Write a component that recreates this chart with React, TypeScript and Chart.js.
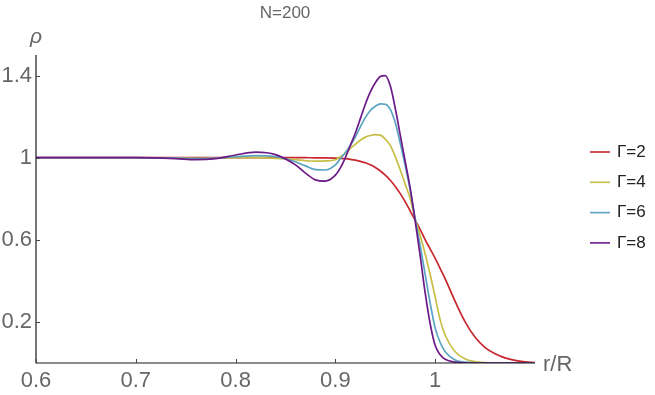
import React, { useEffect, useRef } from "react";
import { Chart, registerables } from "chart.js";

Chart.register(...registerables);

// r/R sample positions
const rValues = [
  0.6, 0.65, 0.7, 0.74, 0.76, 0.78, 0.8, 0.82, 0.84, 0.86, 0.87, 0.88, 0.89, 0.9, 0.905, 0.91, 0.915, 0.92,
  0.925, 0.93, 0.935, 0.94, 0.945, 0.95, 0.955, 0.96, 0.965, 0.97, 0.975, 0.98, 0.985, 0.99, 0.995, 1.0,
  1.005, 1.01, 1.02, 1.03, 1.04, 1.05, 1.06, 1.07, 1.08, 1.09, 1.1,
];

const gamma2 = [
  1.0, 1.0, 1.0, 1.0, 1.0, 1.0, 1.0, 1.0, 1.0, 1.0, 1.0, 0.999, 0.999, 0.998, 0.997, 0.995, 0.992, 0.988,
  0.982, 0.975, 0.965, 0.952, 0.935, 0.915, 0.89, 0.86, 0.825, 0.785, 0.74, 0.695, 0.65, 0.6, 0.555, 0.51,
  0.46, 0.41, 0.3, 0.2, 0.125, 0.075, 0.045, 0.025, 0.013, 0.006, 0.002,
];

const gamma4 = [
  0.998, 0.998, 0.998, 0.998, 0.997, 0.998, 1.0, 1.0, 0.997, 0.99, 0.985, 0.983, 0.984, 0.99, 1.005, 1.02,
  1.045, 1.065, 1.085, 1.1, 1.108, 1.112, 1.11, 1.09, 1.06, 1.005, 0.94, 0.87, 0.8, 0.7, 0.62, 0.53, 0.43,
  0.32, 0.21, 0.135, 0.055, 0.02, 0.007, 0.002, 0.0, 0.0, 0.0, 0.0, 0.0,
];

const gamma6 = [
  1.0, 1.0, 1.0, 0.998, 0.995, 0.998, 1.005, 1.01, 1.005, 0.98, 0.96, 0.942, 0.94, 0.965, 0.995, 1.025, 1.06,
  1.1, 1.15, 1.195, 1.23, 1.25, 1.262, 1.26, 1.235, 1.17, 1.07, 0.96, 0.84, 0.7, 0.57, 0.43, 0.29, 0.17,
  0.1, 0.055, 0.015, 0.004, 0.001, 0.0, 0.0, 0.0, 0.0, 0.0, 0.0,
];

const gamma8 = [
  1.0, 1.0, 1.0, 0.995, 0.99, 0.995, 1.013, 1.027, 1.015, 0.965, 0.925, 0.892, 0.886, 0.915, 0.95, 1.0, 1.06,
  1.12, 1.19, 1.26, 1.32, 1.365, 1.395, 1.4, 1.35, 1.24, 1.11, 0.98, 0.85, 0.69, 0.52, 0.34, 0.19, 0.085,
  0.04, 0.018, 0.004, 0.0, 0.0, 0.0, 0.0, 0.0, 0.0, 0.0, 0.0,
];

const seriesLabels = ["Γ=2", "Γ=4", "Γ=6", "Γ=8"];
const seriesColors = ["#c8272d", "#c7bf45", "#5ba4c1", "#6b1a87"];
const xTicks = [0.6, 0.7, 0.8, 0.9, 1.0];
const yTicks = [0.2, 0.6, 1.0, 1.4];
const titleText = "N=200";
const xAxisLabel = "r/R";
const yAxisLabel = "ρ";

const FONT = "'Liberation Sans', Arial, sans-serif";

const decorPlugin = {
  id: "decor",
  afterDatasetsDraw(chart: any) {
    const ctx = chart.ctx as CanvasRenderingContext2D;
    const xs = chart.scales.x;
    const ys = chart.scales.y;
    const left = xs.getPixelForValue(0.6);
    const right = xs.getPixelForValue(1.1);
    const bottom = ys.getPixelForValue(0);
    const top = ys.getPixelForValue(1.5);
    ctx.save();
    // axes
    ctx.strokeStyle = "#1a1a1a";
    ctx.lineWidth = 1.2;
    ctx.beginPath();
    ctx.moveTo(left, top);
    ctx.lineTo(left, bottom);
    ctx.lineTo(right, bottom);
    ctx.stroke();
    // ticks (inward)
    ctx.lineWidth = 1;
    ctx.strokeStyle = "#444";
    ctx.beginPath();
    for (const v of xTicks) {
      const px = Math.round(xs.getPixelForValue(v)) + 0.5;
      ctx.moveTo(px, bottom);
      ctx.lineTo(px, bottom - 4);
    }
    for (const v of yTicks) {
      const py = Math.round(ys.getPixelForValue(v)) + 0.5;
      ctx.moveTo(left, py);
      ctx.lineTo(left + 4, py);
    }
    ctx.stroke();
    // axis labels
    ctx.fillStyle = "#666";
    ctx.font = `italic 21px ${FONT}`;
    ctx.textAlign = "center";
    ctx.textBaseline = "alphabetic";
    ctx.fillText(yAxisLabel, 36, 43);
    ctx.font = `22px ${FONT}`;
    ctx.textAlign = "left";
    ctx.textBaseline = "middle";
    ctx.fillText(xAxisLabel, right + 8, bottom + 2);
    // title
    ctx.font = `17px ${FONT}`;
    ctx.textAlign = "center";
    ctx.textBaseline = "alphabetic";
    ctx.fillStyle = "#666";
    ctx.fillText(titleText, 285, 18);
    // legend
    ctx.font = `17px ${FONT}`;
    ctx.textAlign = "left";
    ctx.textBaseline = "middle";
    seriesLabels.forEach((lab, i) => {
      const y = 152 + i * 30.3;
      ctx.strokeStyle = seriesColors[i];
      ctx.lineWidth = 1.6;
      ctx.beginPath();
      ctx.moveTo(590, y);
      ctx.lineTo(610, y);
      ctx.stroke();
      ctx.fillStyle = "#222";
      ctx.fillText(lab, 617, y);
    });
    ctx.restore();
  },
};

export default function App() {
  const ref = useRef<HTMLCanvasElement | null>(null);
  useEffect(() => {
    if (!ref.current) return;
    const series = [gamma2, gamma4, gamma6, gamma8];
    const chart = new Chart(ref.current, {
      type: "line",
      data: {
        datasets: series.map((s, i) => ({
          label: seriesLabels[i],
          data: rValues.map((r, j) => ({ x: r, y: s[j] })),
          borderColor: seriesColors[i],
          borderWidth: 1.7,
          pointRadius: 0,
          fill: false,
          cubicInterpolationMode: "monotone" as const,
          order: 4 - i,
        })),
      },
      options: {
        animation: false,
        responsive: false,
        maintainAspectRatio: false,
        layout: { padding: { top: 55, right: 120, left: 0, bottom: 0 } },
        plugins: { legend: { display: false }, tooltip: { enabled: false }, title: { display: false } },
        scales: {
          x: {
            type: "linear",
            min: 0.6,
            max: 1.1,
            grid: { display: false, drawTicks: false },
            border: { display: false },
            afterBuildTicks: (axis: any) => {
              axis.ticks = xTicks.map((v) => ({ value: v }));
            },
            afterFit: (axis: any) => {
              axis.height = 32;
            },
            ticks: {
              autoSkip: false,
              maxRotation: 0,
              padding: 5,
              color: "#666",
              font: { family: FONT, size: 22 },
              callback: (v: any) => String(Number(Number(v).toFixed(2))),
            },
          },
          y: {
            type: "linear",
            min: 0,
            max: 1.5,
            grid: { display: false, drawTicks: false },
            border: { display: false },
            afterBuildTicks: (axis: any) => {
              axis.ticks = yTicks.map((v) => ({ value: v }));
            },
            afterFit: (axis: any) => {
              axis.width = 36;
            },
            ticks: {
              autoSkip: false,
              padding: 4,
              color: "#666",
              font: { family: FONT, size: 22 },
              callback: (v: any) => String(Number(Number(v).toFixed(2))),
            },
          },
        },
      },
      plugins: [decorPlugin],
    });
    return () => chart.destroy();
  }, []);
  return (
    <div style={{ position: "fixed", left: 0, top: 0, width: 655, height: 395, background: "#fff" }}>
      <canvas ref={ref} width={655} height={395} style={{ display: "block", width: 655, height: 395 }} />
    </div>
  );
}
